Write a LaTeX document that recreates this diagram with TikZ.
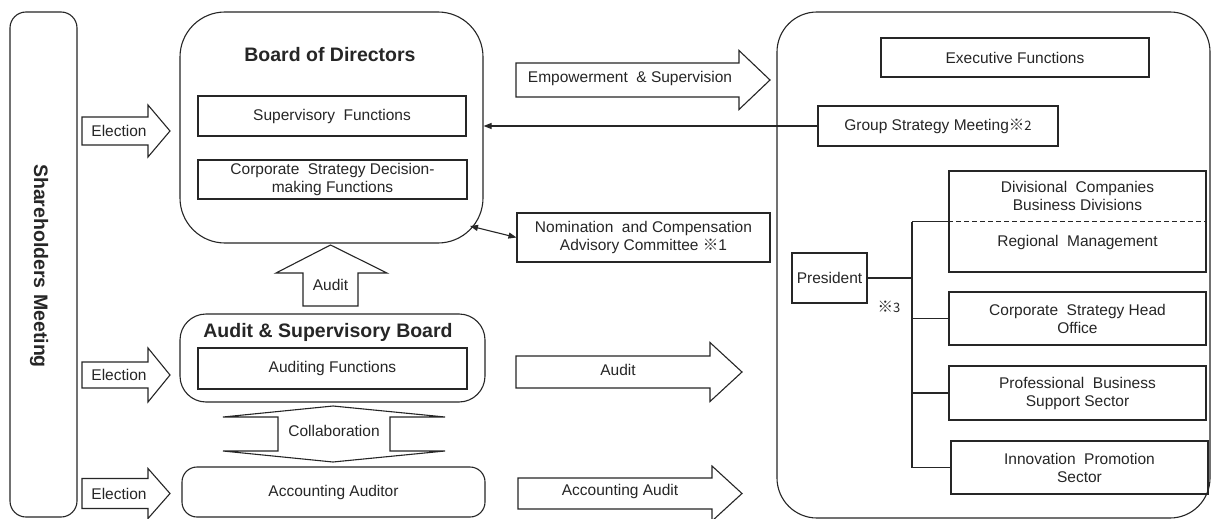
\documentclass[tikz,border=0pt]{standalone}
\usepackage{fontspec}
\setmainfont{Liberation Sans}
\newfontfamily\cjk{Noto Sans CJK JP}
\usetikzlibrary{arrows.meta}
\definecolor{ink}{HTML}{262626}
\newcommand\wsp{\hspace{0.55em}}
\newcommand\myRArr[6]{% x1, xh, x2, yc, shaft half, head half
  \draw[blkarrow] (#1,#4-#5) -- (#2,#4-#5) -- (#2,#4-#6) -- (#3,#4) -- (#2,#4+#6) -- (#2,#4+#5) -- (#1,#4+#5) -- cycle;}
\tikzset{
  every node/.style={font=\fontsize{15.5}{18}\selectfont, text=ink},
  plainbox/.style={draw=ink, line width=1.1pt, align=center, inner sep=1pt},
  roundbox/.style={draw=ink, line width=1.1pt},
  blkarrow/.style={draw=ink, line width=1.1pt, line join=miter, fill=white},
  conn/.style={draw=ink, line width=1.1pt},
  titletext/.style={font=\bfseries\fontsize{19.5}{22}\selectfont},
  tip/.style={-{Triangle[length=8pt,width=6pt]}},
  tips/.style={{Triangle[length=8pt,width=6pt]}-{Triangle[length=8pt,width=6pt]}}
}
\begin{document}
\begin{tikzpicture}[x=1pt,y=-1pt]
\useasboundingbox[fill=white] (0,0) rectangle (1213,519);

% Shareholders Meeting
\node[roundbox, rounded corners=16pt, minimum width=67pt, minimum height=505pt] (sh) at (43.5,264.5) {};
\node[titletext, rotate=-90] (shtxt) at (39,266) {Shareholders Meeting};

% Board of Directors
\node[roundbox, rounded corners=45pt, minimum width=303pt, minimum height=231pt] (bod) at (331.5,127.5) {};
\node[titletext] (bodtxt) at (330,55) {Board of Directors};
\node[plainbox, minimum width=268pt, minimum height=40pt] (sup) at (332,116) {Supervisory\wsp Functions};
\node[plainbox, minimum width=269pt, minimum height=39pt] (csd) at (332.5,179.5) {Corporate\wsp Strategy Decision-\\making Functions};
\coordinate (bodse) at (470,226);

% Audit & Supervisory Board
\node[roundbox, rounded corners=26pt, minimum width=305pt, minimum height=88pt] (asb) at (332.5,358) {};
\node[titletext] (asbtxt) at (328,332) {Audit \& Supervisory Board};
\node[plainbox, minimum width=269pt, minimum height=41pt] (audf) at (332.5,368.5) {Auditing Functions};

% Accounting Auditor
\node[roundbox, rounded corners=15pt, minimum width=303pt, minimum height=50pt] (acc) at (333.5,492) {Accounting Auditor};

% Election arrows
\myRArr{82}{148}{170}{131}{14}{26}
\node (el1) at (119,131) {Election};
\myRArr{82}{148}{170}{375}{13}{27}
\node (el2) at (119,375) {Election};
\myRArr{82}{148}{170}{493.5}{15}{25}
\node (el3) at (119,493.5) {Election};

% Audit (up) arrow
\draw[blkarrow] (303,306) -- (358,306) -- (358,273) -- (387,273) -- (330.5,245) -- (276,273) -- (303,273) -- cycle;
\node (audup) at (330.5,285) {Audit};

% Collaboration double arrow
\draw[blkarrow] (333,406) -- (445,417) -- (390,417) -- (390,451) -- (445,451) -- (333,462) -- (223,451) -- (278,451) -- (278,417) -- (223,417) -- cycle;
\node (collab) at (334,431) {Collaboration};

% Right-pointing arrows in the middle column
\myRArr{516}{739}{770}{80}{17}{29.5}
\node (emp) at (630,78) {Empowerment\wsp \& Supervision};
\myRArr{516}{710}{742}{372}{16}{29.5}
\node (audr) at (618,370) {Audit};
\myRArr{518}{712}{742}{493.5}{15.5}{27.5}
\node (acca) at (620,491) {Accounting Audit};

% Nomination committee
\node[plainbox, minimum width=253pt, minimum height=49pt] (nom) at (643.5,237.5) {Nomination\wsp and Compensation\\Advisory Committee {\cjk ※}1};

% Executive side
\node[roundbox, rounded corners=40pt, minimum width=433pt, minimum height=506pt] (exe) at (993.5,265) {};
\node[plainbox, minimum width=268pt, minimum height=39pt] (exf) at (1015,57.5) {Executive Functions};
\node[plainbox, minimum width=240pt, minimum height=40pt] (gsm) at (938,126) {Group Strategy Meeting{\cjk ※\fontsize{13}{15}\selectfont 2}};
\node[plainbox, minimum width=257pt, minimum height=101pt] (div) at (1077.5,221.5) {};
\node (divtxt) at (1077.5,196) [align=center] {Divisional\wsp Companies\\Business Divisions};
\node (regtxt) at (1077.5,242) {Regional\wsp Management};
\node[plainbox, minimum width=75pt, minimum height=50pt] (pres) at (829.5,278) {President};
\node[plainbox, minimum width=257pt, minimum height=53pt] (cso) at (1077.5,318.5) {Corporate\wsp Strategy Head\\Office};
\node[plainbox, minimum width=257pt, minimum height=54pt] (pbs) at (1077.5,393) {Professional\wsp Business\\Support Sector};
\node[plainbox, minimum width=257pt, minimum height=53pt] (ips) at (1079.5,467.5) {Innovation\wsp Promotion\\Sector};
\node (note3) at (889,307) {{\cjk ※\fontsize{13}{15}\selectfont 3}};

% Connectors
\draw[conn, tip] (gsm.west) -- (bod.east |- gsm.west);
\draw[conn, tips] (bodse) -- (nom.west);
\coordinate (tk) at (912,221.5);
\draw[conn] (pres.east) -- (pres.east -| tk);
\draw[conn] (tk) -- (tk |- ips.west);
\draw[conn] (tk) -- (div.west);
\draw[conn, dashed, dash pattern=on 5pt off 3pt] (div.west) -- (div.east);
\draw[conn] (tk |- cso.west) -- (cso.west);
\draw[conn] (tk |- pbs.west) -- (pbs.west);
\draw[conn] (tk |- ips.west) -- (ips.west);
\end{tikzpicture}
\end{document}
